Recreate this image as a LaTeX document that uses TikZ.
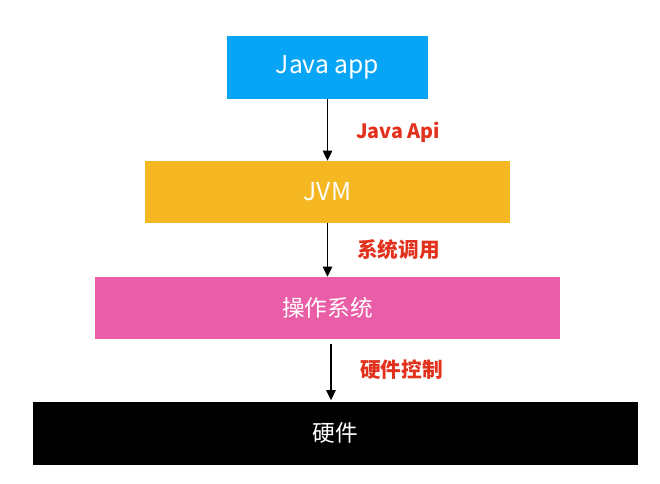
\documentclass[tikz,border=0pt]{standalone}
\usepackage{fontspec}
\setmainfont{Noto Sans CJK SC}
\usepackage{xcolor}
\definecolor{layblue}{RGB}{8,164,246}
\definecolor{layorange}{RGB}{245,184,34}
\definecolor{laypink}{RGB}{233,94,166}
\definecolor{layblack}{RGB}{0,0,0}
\definecolor{layred}{RGB}{226,50,30}
\usetikzlibrary{arrows.meta, positioning}
\tikzset{
  layer/.style={draw=none, text=white, font=\fontsize{17}{20}\selectfont, inner sep=0pt},
  latinlayer/.style={layer, font=\fontsize{18.5}{21}\selectfont},
  calllabel/.style={anchor=west, text=layred, font=\fontsize{15.5}{18}\selectfont\bfseries, inner sep=0pt},
  callarrow/.style={-{Triangle[length=7.5pt,width=7pt]}, line width=1.1pt, black}
}

\begin{document}
\begin{tikzpicture}[x=0.75pt, y=-0.75pt]
  \useasboundingbox (0,0) rectangle (660,484);

  % Layers
  \node[latinlayer, fill=layblue, minimum width=150.75pt, minimum height=47.25pt]
       (app) at (327.5,67.5) {Java app};
  \node[latinlayer, fill=layorange, minimum width=273.75pt, minimum height=46.5pt]
       (jvm) at (327.5,192) {JVM};
  \node[layer, fill=laypink, minimum width=348.75pt, minimum height=46.5pt]
       (os) at (327.5,308) {操作系统};
  \node[layer, fill=layblack, minimum width=453.75pt, minimum height=47.25pt]
       (hw) at (335.5,433) {硬件};

  % Calls between layers
  \draw[callarrow] (app.south) -- (jvm.north);
  \draw[callarrow] (jvm.south) -- (os.north);
  \draw[callarrow] ([xshift=2.6pt,yshift=-3.75pt]os.south) -- ([xshift=-3.4pt,yshift=0.75pt]hw.north);

  % Labels
  \node[calllabel, font=\fontsize{14.8}{17}\selectfont\bfseries] (apilabel) at (356,132) {Java Api};
  \node[calllabel] (syslabel) at (357,250) {系统调用};
  \node[calllabel] (ctllabel) at (360,370) {硬件控制};
\end{tikzpicture}
\end{document}
